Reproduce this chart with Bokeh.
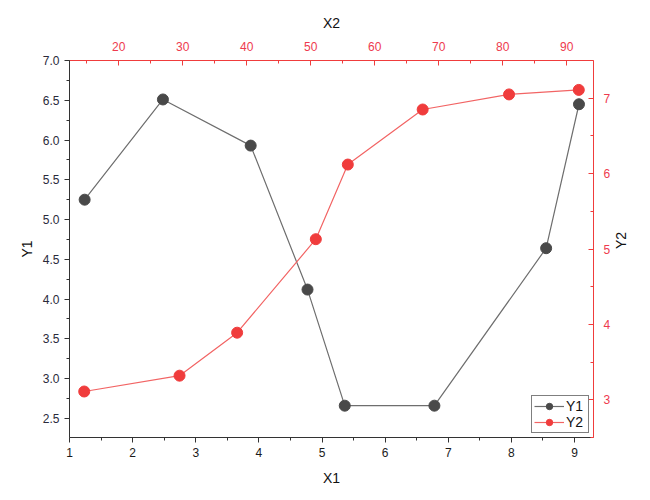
import math
from bokeh.plotting import figure
from bokeh.models import (Range1d, LinearAxis, SingleIntervalTicker, Legend, LegendItem,
                          NumeralTickFormatter, ColumnDataSource)
from bokeh.embed import file_html
from bokeh.resources import INLINE

# Data
x1 = [1.24, 2.48, 3.87, 4.77, 5.36, 6.78, 8.55, 9.07]
y1 = [5.25, 6.51, 5.93, 4.12, 2.66, 2.66, 4.64, 6.45]
x2 = [14.6, 29.5, 38.5, 50.8, 55.8, 67.5, 81.0, 91.9]
y2 = [3.11, 3.32, 3.89, 5.13, 6.12, 6.85, 7.05, 7.11]
series_names = ["Y1", "Y2"]
axis_titles = {"bottom": "X1", "left": "Y1", "top": "X2", "right": "Y2"}

FONT = "Liberation Sans"
DARK = "#333333"
RED = "#f03c3c"
RED_TXT = "#ee3a4e"

p = figure(width=650, height=500, output_backend="svg", toolbar_location=None,
           x_range=Range1d(1.0, 9.30), y_range=Range1d(2.26, 7.0),
           min_border_left=69, min_border_right=57, min_border_top=60, min_border_bottom=63)
p.extra_x_ranges = {"x2": Range1d(12.3, 94.2)}
p.extra_y_ranges = {"y2": Range1d(2.5, 7.5)}
p.grid.visible = False
p.outline_line_color = None
p.background_fill_color = "white"
p.border_fill_color = "white"

def style_axis(ax, color, txtcolor, title, inward):
    ax.axis_label = title
    ax.axis_label_text_font = FONT
    ax.axis_label_text_font_size = "14px"
    ax.axis_label_text_font_style = "normal"
    ax.axis_label_text_color = "#111111"
    ax.major_label_text_font = FONT
    ax.major_label_text_font_size = "12px"
    ax.major_label_text_color = txtcolor
    ax.axis_line_color = color
    ax.major_tick_line_color = color
    ax.minor_tick_line_color = color
    if inward:
        ax.major_tick_in = 5
        ax.major_tick_out = 0
        ax.minor_tick_in = 3
        ax.minor_tick_out = 0
    else:
        ax.major_tick_in = 0
        ax.major_tick_out = 5
        ax.minor_tick_in = 0
        ax.minor_tick_out = 3

xb = p.xaxis[0]
xb.ticker = SingleIntervalTicker(interval=1, num_minor_ticks=2)
style_axis(xb, DARK, "#1a1a1a", axis_titles["bottom"], False)
xb.major_label_standoff = 5
xb.axis_label_standoff = 10

yl = p.yaxis[0]
yl.ticker = SingleIntervalTicker(interval=0.5, num_minor_ticks=2)
yl.formatter = NumeralTickFormatter(format="0.0")
style_axis(yl, DARK, "#2a2a3a", axis_titles["left"], False)
yl.major_label_standoff = 5
yl.axis_label_standoff = 5

xt = LinearAxis(x_range_name="x2", ticker=SingleIntervalTicker(interval=10, num_minor_ticks=2))
style_axis(xt, RED, RED_TXT, axis_titles["top"], True)
xt.major_label_standoff = 10
xt.axis_label_standoff = 8
p.add_layout(xt, "above")

yr = LinearAxis(y_range_name="y2", ticker=SingleIntervalTicker(interval=1, num_minor_ticks=2))
style_axis(yr, RED, RED_TXT, axis_titles["right"], True)
yr.major_label_standoff = 10
yr.axis_label_standoff = 8
yr.axis_label_orientation = math.pi / 2
p.add_layout(yr, "right")

s1 = ColumnDataSource(dict(x=x1, y=y1))
s2 = ColumnDataSource(dict(x=x2, y=y2))

l1 = p.line("x", "y", source=s1, line_color="#6e6e6e", line_width=1.2)
m1 = p.scatter("x", "y", source=s1, size=11, marker="circle",
               fill_color="#494949", line_color="#494949")
l2 = p.line("x", "y", source=s2, x_range_name="x2", y_range_name="y2",
            line_color="#f26464", line_width=1.2)
m2 = p.scatter("x", "y", source=s2, x_range_name="x2", y_range_name="y2", size=11,
               marker="circle", fill_color=RED, line_color=RED)

legend = Legend(items=[LegendItem(label=series_names[0], renderers=[l1, m1]),
                       LegendItem(label=series_names[1], renderers=[l2, m2])],
                location="bottom_right")
legend.margin = 4
legend.padding = 2
legend.spacing = 0
legend.glyph_height = 16
legend.glyph_width = 30
legend.label_standoff = 2
legend.label_height = 16
legend.label_text_font = FONT
legend.label_text_font_size = "14px"
legend.label_text_color = "#111111"
legend.border_line_color = "black"
legend.border_line_width = 1
legend.background_fill_alpha = 1.0
p.add_layout(legend, "center")

open("out.html", "w").write(file_html(p, INLINE))
